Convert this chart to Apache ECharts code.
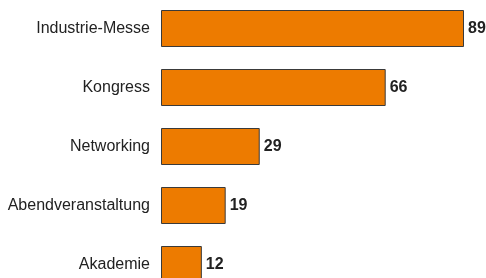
<!DOCTYPE html>
<html>
<head>
<meta charset="utf-8">
<script src="https://cdn.jsdelivr.net/npm/echarts@6/dist/echarts.min.js"></script>
<style>
  html, body { margin: 0; padding: 0; background: #fff; }
  #chart { width: 486px; height: 278px; }
</style>
</head>
<body>
<div id="chart"></div>
<script>
const categories = ['Industrie-Messe', 'Kongress', 'Networking', 'Abendveranstaltung', 'Akademie'];
const values = [89, 66, 29, 19, 12];

const chart = echarts.init(document.getElementById('chart'));

const option = {
    animation: false,
    backgroundColor: '#ffffff',
    grid: {
        left: 161,
        width: 303,
        top: -1,
        height: 295,
        containLabel: false,
        outerBoundsMode: 'none'
    },
    xAxis: {
        type: 'value',
        min: 0,
        max: 89,
        show: false
    },
    yAxis: {
        type: 'category',
        inverse: true,
        data: categories,
        axisLine: { show: false },
        axisTick: { show: false },
        axisLabel: {
            margin: 11,
            fontFamily: 'Liberation Sans',
            fontSize: 16,
            color: '#222'
        }
    },
    series: [
        {
            type: 'bar',
            data: values,
            barWidth: 37,
            itemStyle: {
                color: '#ED7B00',
                borderColor: '#3a3a3a',
                borderWidth: 1
            },
            label: {
                show: true,
                position: 'right',
                distance: 4,
                fontFamily: 'Liberation Sans',
                fontSize: 16,
                fontWeight: 'bold',
                color: '#222'
            }
        }
    ]
};

chart.setOption(option);
</script>
</body>
</html>
